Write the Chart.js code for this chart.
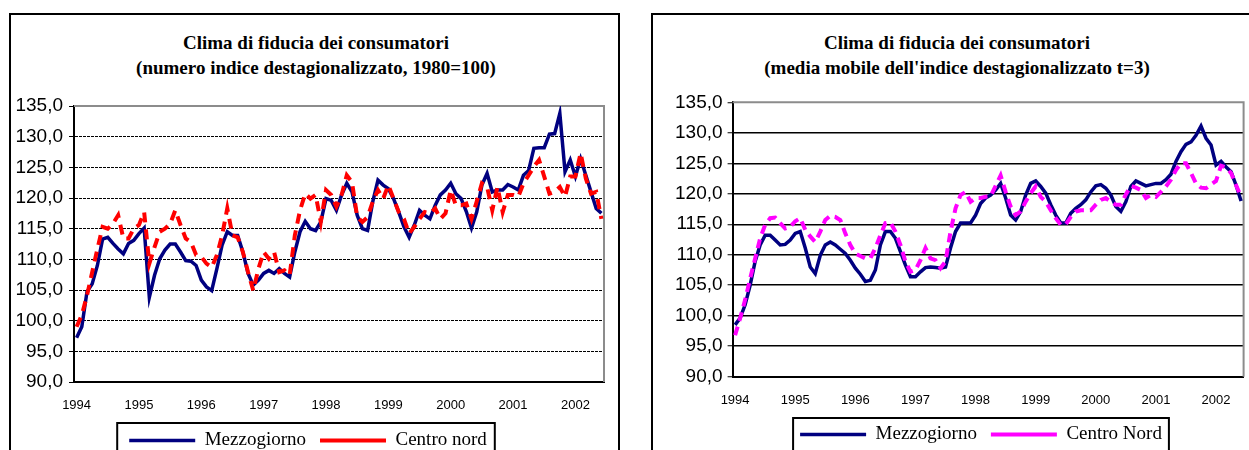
<!DOCTYPE html>
<html>
<head>
<meta charset="utf-8">
<script src="https://cdn.jsdelivr.net/npm/chart.js@4.4.0/dist/chart.umd.min.js"></script>
<style>
  html, body { margin: 0; padding: 0; background: #fff; }
  body { width: 1249px; height: 450px; overflow: hidden; position: relative; }
  .frame { position: absolute; top: 13px; height: 500px; border: 2px solid #000; box-sizing: border-box; }
  .title { position: absolute; top: 30px; width: 600px; text-align: center; color: #000; white-space: nowrap;
           font: bold 19px 'Liberation Serif', 'Times New Roman', serif; line-height: 25px; }
  canvas { position: absolute; top: 0; }
</style>
</head>
<body>
<div class="frame" style="left:9px;width:611px"></div>
<div class="frame" style="left:651px;width:700px"></div>
<div class="title" style="left:16px">Clima di fiducia dei consumatori<br>(numero indice destagionalizzato, 1980=100)</div>
<div class="title" style="left:657px">Clima di fiducia dei consumatori<br>(media mobile dell'indice destagionalizzato t=3)</div>
<canvas id="grezzo" width="620" height="470" style="left:0"></canvas>
<canvas id="mobile" width="680" height="470" style="left:640px"></canvas>
<script>
// dati mensili gen 1994 - giu 2002
const anni = ['1994', '1995', '1996', '1997', '1998', '1999', '2000', '2001', '2002'];
const mesiPerAnno = ['01', '02', '03', '04', '05', '06', '07', '08', '09', '10', '11', '12'];
const yTicks = [90, 95, 100, 105, 110, 115, 120, 125, 130, 135];

const mezzoIndice = [
  97.2, 99.0, 104.7, 106.0, 109.0, 113.3, 113.6, 112.6, 111.7, 110.9, 112.6, 113.1,
  114.2, 115.1, 103.8, 107.4, 110.1, 111.5, 112.5, 112.5, 111.2, 109.8, 109.7, 109.0,
  106.6, 105.5, 104.9, 108.5, 112.3, 114.5, 113.9, 113.9, 111.2, 107.7, 105.8, 106.6,
  107.7, 108.2, 107.7, 108.5, 107.7, 107.1, 111.2, 114.5, 116.2, 115.0, 114.7, 116.1,
  119.9, 119.6, 118.0, 120.5, 122.4, 121.0, 117.2, 115.0, 114.7, 119.4, 122.9, 122.1,
  121.5, 119.9, 117.7, 115.3, 113.6, 115.6, 118.0, 117.2, 116.6, 118.8, 120.5, 121.3,
  122.4, 120.7, 119.9, 117.8, 115.1, 117.7, 122.1, 124.0, 121.0, 121.3, 121.3, 122.2,
  121.8, 121.3, 123.7, 124.5, 128.1, 128.2, 128.2, 130.4, 130.5, 133.8, 124.3, 126.2,
  123.5, 126.4, 123.7, 121.0, 118.3, 117.5
];
const centroIndice = [
  99.0, 100.9, 104.1, 107.9, 111.7, 115.3, 115.0, 115.8, 117.2, 113.4, 113.4, 115.0,
  115.6, 117.7, 109.3, 112.0, 114.5, 115.0, 115.8, 118.0, 115.6, 113.4, 112.8, 110.7,
  110.4, 109.3, 108.7, 110.7, 113.9, 118.3, 113.9, 113.6, 111.2, 107.9, 104.9, 108.5,
  111.2, 110.1, 111.2, 107.9, 108.2, 107.4, 113.9, 118.0, 120.7, 119.9, 120.5, 116.1,
  121.3, 120.5, 118.6, 120.5, 123.7, 122.6, 116.9, 116.1, 116.9, 119.4, 121.3, 119.9,
  122.1, 119.9, 117.7, 116.6, 114.2, 115.3, 116.6, 117.7, 117.5, 118.3, 116.6, 117.5,
  121.3, 118.8, 118.8, 119.1, 116.6, 119.4, 122.4, 121.8, 118.0, 121.8, 117.7, 120.5,
  120.5, 120.2, 122.4, 123.7, 125.1, 126.2, 123.5, 120.7, 121.0, 121.8, 120.2, 123.5,
  123.5, 127.3, 123.2, 120.7, 121.0, 116.6
];
const mezzoMobile = [
  98.5, 99.6, 101.8, 105.0, 108.9, 111.6, 113.2, 113.2, 112.4, 111.6, 111.7, 112.4,
  113.5, 113.8, 111.1, 108.0, 106.9, 109.9, 111.6, 112.1, 111.6, 110.9, 110.2, 109.1,
  107.8, 106.8, 105.6, 105.8, 107.5, 111.6, 113.8, 113.8, 112.7, 110.5, 108.3, 106.4,
  106.4, 107.2, 107.9, 108.0, 107.9, 107.8, 108.0, 111.1, 113.8, 115.2, 115.2, 115.2,
  116.5, 118.4, 119.3, 119.8, 120.6, 121.7, 119.3, 116.5, 115.7, 117.1, 119.8, 121.7,
  122.1, 121.2, 120.1, 118.2, 116.5, 115.2, 115.2, 116.8, 117.6, 118.2, 119.0, 120.3,
  121.3, 121.5, 120.9, 119.8, 117.9, 117.1, 118.7, 121.2, 122.1, 121.7, 121.3, 121.5,
  121.7, 121.7, 122.3, 123.2, 125.3, 126.9, 128.1, 128.5, 129.6, 131.1, 129.1, 128.0,
  124.7, 125.3, 124.4, 123.6, 121.4, 118.8
];
const centroMobile = [
  96.8, 99.6, 102.6, 106.1, 109.4, 112.7, 114.9, 116.0, 116.1, 115.2, 114.3, 114.6,
  115.5, 116.0, 114.1, 113.0, 112.1, 113.8, 115.7, 116.4, 116.2, 115.7, 113.5, 111.6,
  110.2, 109.8, 109.4, 109.4, 111.1, 113.2, 115.2, 115.3, 113.8, 111.6, 108.9, 107.2,
  107.5, 109.1, 111.1, 109.4, 109.1, 107.8, 108.9, 113.8, 117.6, 119.8, 120.3, 118.7,
  119.3, 119.3, 119.5, 119.6, 121.3, 123.0, 120.3, 117.9, 116.5, 117.1, 118.7, 120.1,
  121.2, 119.5, 118.7, 117.3, 116.0, 114.9, 115.0, 116.2, 117.1, 117.3, 117.3, 117.3,
  118.2, 119.0, 119.3, 118.7, 118.2, 118.2, 119.9, 121.3, 121.0, 120.6, 119.3, 119.8,
  119.5, 120.3, 121.2, 122.3, 123.9, 125.0, 125.0, 123.4, 121.7, 121.0, 120.9, 121.5,
  122.1, 124.6, 124.3, 123.4, 121.4, 119.5
];

const mesi = [];
anni.forEach((a) => mesiPerAnno.forEach((m) => mesi.push(a + '-' + m)));
mesi.length = mezzoIndice.length;

const SANS = "'Liberation Sans', Arial, sans-serif";
const SERIF = "'Liberation Serif', 'Times New Roman', serif";

// bordo grigio dell'area del grafico (lati alto e destro)
const plotFrame = {
  id: 'plotFrame',
  beforeDatasetsDraw(chart) {
    const { ctx, chartArea: a } = chart;
    ctx.save();
    ctx.strokeStyle = '#8c8c8c';
    ctx.lineWidth = 2;
    ctx.beginPath();
    ctx.moveTo(a.left, a.top);
    ctx.lineTo(a.right, a.top);
    ctx.lineTo(a.right, a.bottom);
    ctx.stroke();
    ctx.restore();
  }
};

// altezza fissa della legenda, cosi' l'area del grafico non dipende dal font
const fixLegend = {
  id: 'fixLegend',
  beforeLayout(chart, args, opts) {
    const lg = chart.legend;
    if (!lg || lg._altezzaFissa) return;
    const fit = lg.fit;
    lg.fit = function () {
      fit.call(this);
      this.height = opts.height;
    };
    lg._altezzaFissa = true;
  }
};

// riquadro intorno alla legenda
const legendBox = {
  id: 'legendBox',
  afterDraw(chart, args, opts) {
    const boxes = chart.legend && chart.legend.legendHitBoxes;
    if (!boxes || !boxes.length) return;
    const left = Math.min(...boxes.map((b) => b.left)) - opts.padLeft;
    const right = Math.max(...boxes.map((b) => b.left + b.width)) + opts.padRight;
    const top = boxes[0].top - opts.padTop;
    const ctx = chart.ctx;
    ctx.save();
    ctx.strokeStyle = '#000';
    ctx.lineWidth = 2;
    ctx.strokeRect(left, top, right - left, 100);
    ctx.restore();
  }
};

function makeChart(id, s) {
  const scales = {
    x: {
      offset: true,
      grid: { display: false, drawTicks: false },
      border: { display: true, color: '#000', width: 2 },
      ticks: {
        autoSkip: false,
        maxRotation: 0,
        padding: s.xPad,
        color: '#000',
        font: { family: SANS, size: 13 },
        callback: (v, i) => (i % 12 === 0 ? anni[i / 12] : '')
      },
      afterFit: (scale) => { scale.height = s.xHeight; }
    },
    y: {
      min: yTicks[0],
      max: yTicks[yTicks.length - 1],
      afterBuildTicks: (scale) => { scale.ticks = yTicks.map((v) => ({ value: v })); },
      ticks: {
        padding: s.yPad,
        color: '#000',
        font: { family: SANS, size: 19 },
        callback: (v) => v.toFixed(1).replace('.', ',')
      },
      grid: {
        color: (c) => (c.tick && c.tick.value === yTicks[yTicks.length - 1] ? 'rgba(0,0,0,0)' : '#000'),
        lineWidth: s.gridWidth,
        tickLength: 5,
        tickColor: '#000',
        tickWidth: 1
      },
      border: { color: '#000', width: 2, dash: s.gridDash },
      afterFit: (scale) => { scale.width = s.yWidth; }
    }
  };
  // asse vuoto a destra: serve solo a centrare la legenda come nell'originale
  if (s.spazioDestro) {
    scales.yVuoto = {
      position: 'right',
      ticks: { display: false },
      grid: { display: false },
      border: { display: false },
      afterFit: (scale) => { scale.width = s.spazioDestro; }
    };
  }

  return new Chart(document.getElementById(id).getContext('2d'), {
    type: 'line',
    data: {
      labels: mesi,
      datasets: [{
        label: 'Mezzogiorno',
        data: s.mezzo,
        borderColor: '#000080',
        borderWidth: 3.5,
        pointRadius: 0,
        tension: 0,
        order: 1
      }, {
        label: s.labelCentro,
        data: s.centro,
        borderColor: s.colorCentro,
        borderWidth: 4,
        borderDash: s.dash,
        pointRadius: 0,
        tension: 0,
        order: 0
      }]
    },
    options: {
      responsive: false,
      animation: false,
      layout: { padding: s.padding },
      plugins: {
        title: { display: false },
        tooltip: { enabled: false },
        legend: {
          position: 'bottom',
          labels: {
            usePointStyle: true,
            pointStyle: 'line',
            pointStyleWidth: 66,
            padding: 14,
            color: '#000',
            font: { family: SERIF, size: 19 },
            sort: (a, b) => a.datasetIndex - b.datasetIndex
          }
        },
        fixLegend: { height: 47 },
        legendBox: s.legendPad
      },
      scales: scales
    },
    plugins: [fixLegend, plotFrame, legendBox]
  });
}

makeChart('grezzo', {
  mezzo: mezzoIndice,
  centro: centroIndice,
  labelCentro: 'Centro nord',
  colorCentro: '#ff0000',
  dash: [10, 7],
  padding: { left: 12, right: 16, top: 106, bottom: 6 },
  yWidth: 62,
  yPad: 6,
  xHeight: 35,
  xPad: 16,
  gridDash: [3, 1],
  gridWidth: 1,
  legendPad: { padLeft: 12, padRight: 8, padTop: 8 }
});

makeChart('mobile', {
  mezzo: mezzoMobile,
  centro: centroMobile,
  labelCentro: 'Centro Nord',
  colorCentro: '#ff00ff',
  dash: [9, 6],
  padding: { left: 20, right: 18, top: 102.3, bottom: 12 },
  yWidth: 72.6,
  spazioDestro: 58.4,
  yPad: 5,
  xHeight: 34.3,
  xPad: 15.5,
  gridDash: [],
  gridWidth: 1.5,
  legendPad: { padLeft: 7, padRight: 7, padTop: 7 }
});
</script>
</body>
</html>
